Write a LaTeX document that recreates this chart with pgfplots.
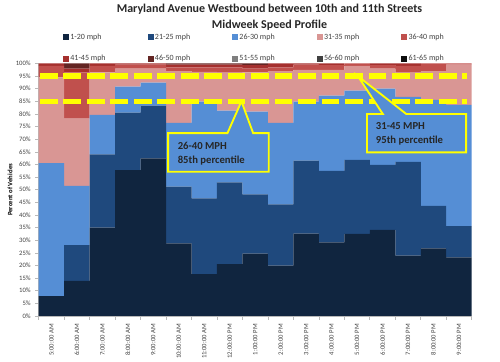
\documentclass[border=0pt]{standalone}
\usepackage{pgfplots}
\pgfplotsset{compat=1.18}
\usepackage{pgfplotstable}
\usepackage{fontspec}
\setmainfont{Carlito}
\definecolor{c1}{HTML}{10253F}
\definecolor{c2}{HTML}{1F497D}
\definecolor{c3}{HTML}{558ED5}
\definecolor{c4}{HTML}{D99694}
\definecolor{c5}{HTML}{C0504D}
\definecolor{c6}{HTML}{A5302E}
\definecolor{c7}{HTML}{632523}
\definecolor{c8}{HTML}{7F7F7F}
\definecolor{c9}{HTML}{404040}
\definecolor{c10}{HTML}{0D0D0D}
\definecolor{yel}{HTML}{FFFF00}
\pgfplotsset{sq legend/.style={legend image code/.code={\fill[##1] (0pt,-2.2pt) rectangle (4.4pt,2.2pt);}}}
\pgfplotstableread{
x a b c d e f g
0 7.9 0 52.6 34.0 4.5 1.0 0
1 13.9 14.2 23.4 26.7 18.3 1.5 2.0
2 35.0 29.0 15.6 16.9 2.5 1.0 0
3 57.8 22.7 10.3 7.2 1.5 0.5 0
4 62.4 20.9 9.1 5.6 1.5 0.5 0
5 28.8 22.4 25.3 20.5 1.5 1.0 0.5
6 16.6 30.0 38.3 11.8 1.8 1.0 0.5
7 20.5 32.4 28.4 15.1 2.1 1.0 0.5
8 24.7 23.5 32.7 15.6 1.5 1.3 0.7
9 19.9 24.3 32.3 20.5 1.5 1.5 0
10 32.6 28.9 23.4 12.6 2.0 0.5 0
11 29.2 28.3 29.8 10.2 1.8 0.7 0
12 32.5 29.3 27.4 9.8 1.0 0 0
13 34.1 25.7 30.2 8.0 1.3 0.7 0
14 23.9 37.1 25.8 9.6 2.6 1.0 0
15 26.8 16.8 42.0 11.4 3.0 0 0
16 23.2 12.4 48.0 15.9 0.5 0 0
}\data
\begin{document}
\begin{tikzpicture}
\begin{axis}[
  name=ax, at={(0,0)}, anchor=south west,
  width=324.75pt, height=189.4pt, scale only axis,
  ybar stacked, bar width=1,
  xmin=-0.5, xmax=16.5, ymin=0, ymax=100,
  xtick={0,...,16},
  xticklabels={5:00:00 AM,6:00:00 AM,7:00:00 AM,8:00:00 AM,9:00:00 AM,10:00:00 AM,11:00:00 AM,12:00:00 PM,1:00:00 PM,2:00:00 PM,3:00:00 PM,4:00:00 PM,5:00:00 PM,6:00:00 PM,7:00:00 PM,8:00:00 PM,9:00:00 PM},
  minor xtick={-0.5,0.5,...,16.5},
  ytick={0,5,...,100},
  yticklabel={\pgfmathprintnumber{\tick}\%},
  axis x line*=bottom, axis y line*=left,
  axis line style={-, draw=gray!55, line width=0.6pt},
  tick style={draw=gray!55, line width=0.5pt},
  major x tick style={draw=none},
  major tick length=2.5pt, minor tick length=3pt,
  tick align=outside,
  ticklabel style={font=\fontsize{5}{6}\selectfont, text=black!75},
  xticklabel style={rotate=90, anchor=east},
  /pgf/number format/assume math mode=true,
  every axis y label/.style={at={(rel axis cs:0,0.5)}, xshift=-21.5pt, rotate=90, anchor=center, font=\fontsize{5}{6}\selectfont\bfseries},
  ylabel={Percent of Vehicles},
  clip=false,
  legend columns=5,
  legend style={at={(rel axis cs:0.056,0.997)}, anchor=south west, draw=none, fill=none, inner sep=0pt,
    font=\fontsize{6}{7}\selectfont, text=black!75, row sep=8.4pt,
    nodes={inner sep=1pt}},
]
\addplot[fill=c1, draw=none, sq legend] table[x=x,y=a]{\data};
\addplot[fill=c2, draw=none, sq legend] table[x=x,y=b]{\data};
\addplot[fill=c3, draw=none, sq legend] table[x=x,y=c]{\data};
\addplot[fill=c4, draw=none, sq legend] table[x=x,y=d]{\data};
\addplot[fill=c5, draw=none, sq legend] table[x=x,y=e]{\data};
\addplot[fill=c6, draw=none, sq legend] table[x=x,y=f]{\data};
\addplot[fill=c7, draw=none, sq legend] table[x=x,y=g]{\data};
\addlegendimage{fill=c8, draw=none, sq legend}
\addlegendimage{fill=c9, draw=none, sq legend}
\addlegendimage{fill=c10, draw=none, sq legend}
\legend{\makebox[57pt][l]{1-20 mph},\makebox[57pt][l]{21-25 mph},\makebox[57pt][l]{26-30 mph},\makebox[57pt][l]{31-35 mph},\makebox[57pt][l]{36-40 mph},
\makebox[57pt][l]{41-45 mph},\makebox[57pt][l]{46-50 mph},\makebox[57pt][l]{51-55 mph},\makebox[57pt][l]{56-60 mph},\makebox[57pt][l]{61-65  mph}}
% title
\node[font=\fontsize{9}{11}\selectfont\bfseries, text=black!85] at (rel axis cs:0.533,1.216) {Maryland Avenue Westbound between 10th and 11th Streets};
\node[font=\fontsize{9}{11}\selectfont\bfseries, text=black!85] at (rel axis cs:0.533,1.153) {Midweek Speed Profile};
\end{axis}
% annotations in the axis' own units (x: category index, y: percent)
\begin{scope}[x=19.1029pt, y=1.894pt, shift={(9.5515pt,0pt)}]
\draw[yel, line width=4pt, dash pattern=on 13.3pt off 4.3pt] (-0.45,85) -- (16.3,85);
\draw[yel, line width=4pt, dash pattern=on 13.3pt off 4.3pt] (-0.45,95) -- (16.3,95);
\draw[yel, line width=1.4pt, fill=c3] (4.58,57.1) -- (4.58,72.4) -- (6.91,72.4) -- (7.46,85) -- (7.92,72.4) -- (8.53,72.4) -- (8.53,57.1) -- cycle;
\node[anchor=west, align=left, font=\fontsize{8}{10.7}\selectfont\bfseries, text=black!85, inner sep=0pt] at (4.95,64.2) {26-40 MPH\\85th percentile};
\draw[yel, line width=1.4pt, fill=c3] (12.39,64.8) -- (12.39,80.0) -- (13.01,80.0) -- (12.03,95) -- (13.93,80.0) -- (16.28,80.0) -- (16.28,64.8) -- cycle;
\node[anchor=west, align=left, font=\fontsize{8}{10.7}\selectfont\bfseries, text=black!85, inner sep=0pt] at (12.73,72.1) {31-45 MPH\\95th percentile};
\end{scope}
\pgfresetboundingbox
\path[use as bounding box] (-29.03pt,-34.5pt) rectangle (345.98pt,237pt);
\end{tikzpicture}
\end{document}
